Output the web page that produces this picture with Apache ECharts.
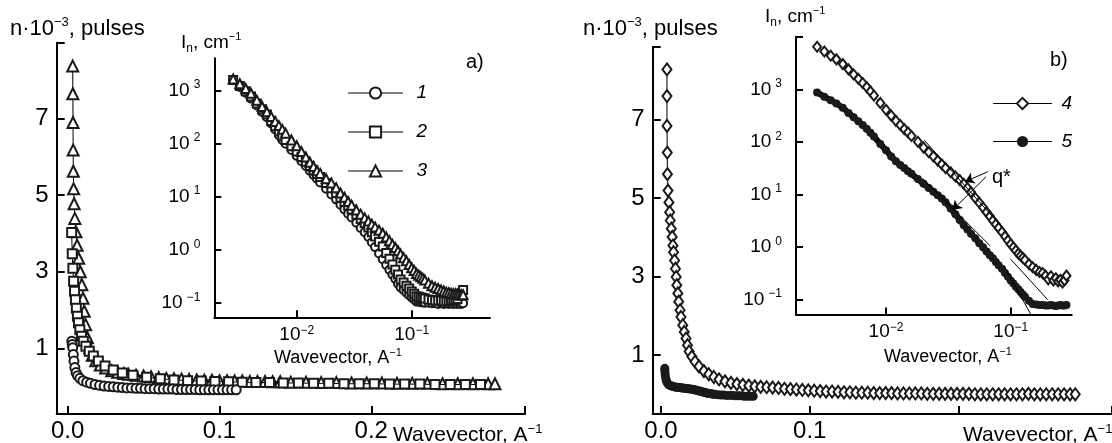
<!DOCTYPE html>
<html>
<head>
<meta charset="utf-8">
<script src="https://cdn.jsdelivr.net/npm/echarts@6.0.0/dist/echarts.min.js"></script>
<style>
  html, body { margin: 0; padding: 0; background: #fff; }
  #chart { width: 1112px; height: 443px; }
</style>
</head>
<body>
<div id="chart"></div>
<script>
const FONT = '"Liberation Sans", Arial, sans-serif';

// ---- main panels, n*10^-3 pulses vs wavevector ----
const mainXTicks = [0, 0.1, 0.2];
const mainXLabels = ['0.0', '0.1', '0.2'];
const mainYTicks = [1, 3, 5, 7];

// panel a), curve 3 (triangles)
const qTriMain = [0.0033, 0.0034, 0.0035, 0.0036, 0.0037, 0.0039, 0.0042, 0.0047, 0.0054, 0.0062,
  0.0072, 0.0083, 0.0093, 0.0101, 0.0109, 0.0118, 0.0130, 0.0145, 0.0162, 0.0185,
  0.0215, 0.025, 0.029, 0.033, 0.037, 0.040, 0.045, 0.050, 0.055, 0.060,
  0.065, 0.070, 0.075, 0.080, 0.085, 0.090, 0.095, 0.100, 0.105, 0.110,
  0.115, 0.120, 0.125, 0.130, 0.135, 0.140, 0.147, 0.157, 0.167, 0.177,
  0.187, 0.197, 0.207, 0.217, 0.227, 0.237, 0.247, 0.257, 0.267, 0.277, 0.2815];
const nTriMain = [8.36, 7.64, 6.89, 6.17, 5.62, 5.16, 4.77, 4.39, 4.04, 3.69,
  3.35, 3.00, 2.66, 2.31, 1.97, 1.62, 1.28, 1.02, 0.82, 0.68,
  0.57, 0.49, 0.42, 0.38, 0.35, 0.33, 0.30, 0.28, 0.26, 0.24,
  0.22, 0.21, 0.20, 0.19, 0.18, 0.17, 0.17, 0.16, 0.16, 0.15,
  0.15, 0.14, 0.14, 0.14, 0.13, 0.13, 0.12, 0.12, 0.11, 0.11,
  0.10, 0.10, 0.10, 0.09, 0.09, 0.09, 0.08, 0.08, 0.08, 0.08, 0.08];

// panel a), curve 2 (squares)
const qSqMain = [0.0026, 0.0030, 0.0034, 0.0039, 0.0045, 0.0051, 0.0057, 0.0064, 0.0071, 0.0080,
  0.0091, 0.0103, 0.0120, 0.0142, 0.0169, 0.0202, 0.0246, 0.030, 0.036, 0.043,
  0.052, 0.061, 0.070, 0.079, 0.088, 0.097, 0.106, 0.115, 0.124, 0.133,
  0.142, 0.152, 0.162, 0.172, 0.182, 0.192, 0.202, 0.212, 0.222, 0.232,
  0.242, 0.252, 0.262, 0.272];
const nSqMain = [4.02, 3.47, 3.09, 2.75, 2.49, 2.27, 2.05, 1.84, 1.67, 1.49,
  1.32, 1.19, 1.06, 0.93, 0.80, 0.67, 0.54, 0.44, 0.36, 0.30,
  0.25, 0.21, 0.18, 0.16, 0.15, 0.14, 0.13, 0.12, 0.11, 0.11,
  0.10, 0.10, 0.09, 0.09, 0.08, 0.08, 0.08, 0.07, 0.07, 0.07,
  0.06, 0.06, 0.06, 0.06];

// panel a), curve 1 (circles)
const qCirMain = [0.0027, 0.0030, 0.0033, 0.0037, 0.0041, 0.0047, 0.0055, 0.0065, 0.0080, 0.0100,
  0.0125, 0.015, 0.018, 0.021, 0.024, 0.027, 0.030, 0.033, 0.036, 0.039,
  0.042, 0.045, 0.048, 0.051, 0.054, 0.057, 0.060, 0.063, 0.066, 0.069,
  0.072, 0.075, 0.078, 0.081, 0.084, 0.087, 0.090, 0.093, 0.096, 0.099,
  0.102, 0.105, 0.108, 0.111];
const nCirMain = [1.19, 1.10, 1.02, 0.84, 0.67, 0.50, 0.37, 0.29, 0.22, 0.16,
  0.12, 0.09, 0.06, 0.04, 0.02, 0.01, 0.00, -0.01, -0.02, -0.03,
  -0.03, -0.04, -0.04, -0.05, -0.05, -0.05, -0.06, -0.06, -0.06, -0.06,
  -0.07, -0.07, -0.07, -0.07, -0.07, -0.08, -0.08, -0.08, -0.08, -0.08,
  -0.08, -0.08, -0.08, -0.08];

// panel b), curve 4 (diamonds)
const qDiaMain = [0.0040, 0.0040, 0.0040, 0.0042, 0.0043, 0.0047, 0.0053, 0.0058, 0.0062, 0.0069,
  0.0075, 0.0080, 0.0084, 0.0091, 0.0097, 0.0102, 0.0106, 0.0113, 0.0119, 0.0128,
  0.0134, 0.0146, 0.0156, 0.0168, 0.0178, 0.0189, 0.0207, 0.0229, 0.0255, 0.0288,
  0.0321, 0.0355, 0.039, 0.043, 0.047, 0.051, 0.055, 0.059, 0.063, 0.067,
  0.071, 0.075, 0.079, 0.083, 0.087, 0.091, 0.095, 0.099, 0.103, 0.107,
  0.111, 0.115, 0.119, 0.123, 0.127, 0.131, 0.135, 0.139, 0.143, 0.147,
  0.151, 0.155, 0.159, 0.163, 0.167, 0.171, 0.175, 0.179, 0.183, 0.187,
  0.191, 0.195, 0.199, 0.203, 0.207, 0.211, 0.215, 0.219, 0.223, 0.227,
  0.231, 0.235, 0.239, 0.243, 0.247, 0.251, 0.255, 0.259, 0.263, 0.267,
  0.271, 0.275, 0.2785];
const nDiaMain = [8.28, 7.60, 6.84, 6.16, 5.61, 5.19, 4.89, 4.64, 4.43, 4.22,
  4.01, 3.79, 3.62, 3.41, 3.20, 2.99, 2.78, 2.57, 2.36, 2.14,
  1.97, 1.76, 1.59, 1.42, 1.25, 1.09, 0.96, 0.83, 0.71, 0.59,
  0.51, 0.44, 0.38, 0.33, 0.29, 0.26, 0.24, 0.22, 0.20, 0.19,
  0.18, 0.17, 0.16, 0.14, 0.13, 0.12, 0.11, 0.10, 0.09, 0.08,
  0.07, 0.07, 0.06, 0.05, 0.05, 0.04, 0.04, 0.04, 0.03, 0.03,
  0.03, 0.03, 0.02, 0.02, 0.02, 0.02, 0.02, 0.01, 0.01, 0.01,
  0.01, 0.01, 0.01, 0.01, 0.01, 0.00, 0.00, 0.00, 0.00, 0.00,
  0.00, 0.00, 0.00, 0.00, 0.01, 0.00, 0.00, 0.00, 0.00, 0.00,
  0.00, 0.00, 0.00];

// panel b), curve 5 (filled circles)
const qFilMain = [0.0025, 0.0026, 0.0027, 0.0029, 0.0032, 0.0036, 0.0042, 0.005, 0.006, 0.007,
  0.008, 0.009, 0.010, 0.011, 0.012, 0.013, 0.014, 0.015, 0.016, 0.017,
  0.018, 0.019, 0.020, 0.021, 0.022, 0.023, 0.024, 0.025, 0.026, 0.027,
  0.028, 0.029, 0.030, 0.031, 0.032, 0.033, 0.034, 0.035, 0.036, 0.038,
  0.040, 0.042, 0.044, 0.046, 0.048, 0.050, 0.052, 0.054, 0.056, 0.058,
  0.060, 0.062];
const nFilMain = [0.66, 0.60, 0.54, 0.47, 0.40, 0.34, 0.29, 0.25, 0.23, 0.21,
  0.20, 0.19, 0.18, 0.18, 0.17, 0.17, 0.16, 0.16, 0.15, 0.15,
  0.14, 0.14, 0.13, 0.13, 0.12, 0.11, 0.10, 0.09, 0.08, 0.07,
  0.06, 0.05, 0.04, 0.03, 0.02, 0.02, 0.01, 0.00, 0.00, -0.01,
  -0.02, -0.02, -0.03, -0.03, -0.03, -0.04, -0.04, -0.04, -0.05, -0.05,
  -0.05, -0.05];

// ---- insets, I_n (cm^-1) vs wavevector, log-log ----
const insetXTicks = [0.01, 0.1];
const insetXExp = ['−2', '−1'];
const insetYTicks = [0.1, 1, 10, 100, 1000];
const insetYExp = ['−1', '0', '1', '2', '3'];

const qInset = [0.0028, 0.0032, 0.0036, 0.004, 0.0045, 0.005, 0.0055, 0.006, 0.0065, 0.007,
  0.0075, 0.008, 0.009, 0.010, 0.011, 0.012, 0.013, 0.014, 0.015, 0.016,
  0.018, 0.020, 0.022, 0.024, 0.026, 0.028, 0.030, 0.033, 0.036, 0.039,
  0.042, 0.045, 0.048, 0.052, 0.056, 0.060, 0.064, 0.068, 0.072, 0.076,
  0.080, 0.085, 0.090, 0.095, 0.100, 0.105, 0.110, 0.115, 0.120, 0.125,
  0.130, 0.140, 0.150, 0.160, 0.170, 0.180, 0.190, 0.200, 0.210, 0.220,
  0.230, 0.240, 0.250, 0.260, 0.270, 0.280];

const iCurve1 = [1580, 1170, 912, 708, 525, 398, 316, 240, 186, 145,
  117, 100, 75.9, 58.9, 46.8, 38.0, 30.9, 25.7, 21.9, 18.6,
  14.1, 11.0, 8.91, 7.08, 5.75, 4.79, 4.07, 3.24, 2.57, 2.14,
  1.74, 1.38, 1.12, 0.851, 0.661, 0.513, 0.417, 0.339, 0.282, 0.229,
  0.195, 0.174, 0.155, 0.138, 0.126, 0.115, 0.105, 0.104, 0.102, 0.101,
  0.100, 0.100, 0.098, 0.098, 0.095, 0.098, 0.095, 0.098, 0.095, 0.098,
  0.095, 0.098, 0.095, 0.098, 0.095, 0.098];
const iCurve2 = [1580, 1230, 977, 776, 575, 447, 355, 269, 214, 170,
  138, 117, 89.1, 70.8, 56.2, 45.7, 38.0, 31.6, 26.9, 23.4,
  18.2, 14.5, 11.7, 9.55, 7.94, 6.76, 5.75, 4.57, 3.80, 3.16,
  2.63, 2.14, 1.78, 1.41, 1.15, 0.871, 0.676, 0.525, 0.417, 0.339,
  0.275, 0.240, 0.209, 0.186, 0.162, 0.148, 0.132, 0.129, 0.126, 0.123,
  0.120, 0.115, 0.112, 0.110, 0.110, 0.110, 0.107, 0.107, 0.107, 0.110,
  0.112, 0.115, 0.117, 0.135, 0.151, 0.174];
const iCurve3 = [1660, 1350, 1100, 891, 661, 501, 398, 324, 263, 219,
  186, 158, 117, 91.2, 70.8, 56.2, 44.7, 37.2, 30.9, 27.5,
  21.9, 18.2, 14.8, 11.7, 9.77, 8.13, 6.92, 5.62, 4.68, 3.98,
  3.47, 3.02, 2.69, 2.34, 2.04, 1.74, 1.48, 1.26, 1.10, 0.955,
  0.832, 0.708, 0.617, 0.525, 0.457, 0.407, 0.355, 0.331, 0.309, 0.288,
  0.269, 0.234, 0.209, 0.195, 0.186, 0.174, 0.166, 0.158, 0.155, 0.151,
  0.148, 0.148, 0.145, 0.145, 0.141, 0.141];
const iCurve4 = [6460, 5250, 4370, 3720, 3020, 2400, 1910, 1580, 1320, 1100,
  912, 759, 550, 407, 316, 251, 209, 174, 151, 129,
  100, 77.6, 63.1, 52.5, 43.7, 37.2, 31.6, 26.3, 21.9, 18.6,
  15.8, 13.2, 11.0, 8.51, 6.92, 5.62, 4.57, 3.80, 3.16, 2.69,
  2.29, 1.91, 1.58, 1.32, 1.12, 0.977, 0.851, 0.741, 0.676, 0.617,
  0.562, 0.468, 0.407, 0.363, 0.331, 0.316, 0.282, 0.240, 0.275, 0.229,
  0.251, 0.219, 0.234, 0.209, 0.229, 0.282];
const iCurve5 = [871, 724, 617, 537, 447, 355, 295, 245, 209, 178,
  148, 126, 91.2, 69.2, 52.5, 42.7, 36.3, 31.6, 27.5, 24.5,
  19.5, 15.8, 13.2, 11.2, 9.55, 8.32, 7.08, 5.37, 4.17, 3.24,
  2.57, 2.14, 1.78, 1.45, 1.17, 0.977, 0.813, 0.692, 0.603, 0.513,
  0.447, 0.380, 0.316, 0.269, 0.229, 0.200, 0.174, 0.155, 0.138, 0.123,
  0.112, 0.0933, 0.0813, 0.0794, 0.0776, 0.0776, 0.0759, 0.0759, 0.0776, 0.0759,
  0.0741, 0.0759, 0.0776, 0.0759, 0.0759, 0.0776];

// straight power-law fits in inset b) and the q* arrows
const fit4Low = [[0.0203, 107], [0.0938, 1.82]];
const fit4High = [[0.100, 0.58], [0.198, 0.098]];
const fit5Low = [[0.0197, 20.0], [0.0685, 1.04]];
const fit5High = [[0.0891, 0.417], [0.146, 0.050]];
const qStarArrow4 = [[0.0655, 26.9], [0.0431, 17.4]];
const qStarArrow5 = [[0.0634, 21.6], [0.0342, 5.0]];

const pairs = (xs, ys) => xs.map((x, i) => [x, ys[i]]);

const axisLineStyle = { color: '#000', width: 2 };
const tickStyle = { color: '#000', width: 2 };
const supRich = {
  s: { fontSize: 12, fontFamily: FONT, color: '#000', verticalAlign: 'top', lineHeight: 12 },
  sp: { fontSize: 12, fontFamily: FONT, color: '#000', verticalAlign: 'top', lineHeight: 12, padding: [0, 0, 0, 4] }
};

function mainXAxis(gridIndex, min, max, labels) {
  return {
    type: 'value', gridIndex, min, max,
    axisLine: { onZero: false, lineStyle: axisLineStyle },
    axisTick: { inside: true, length: 8, lineStyle: tickStyle, customValues: mainXTicks.concat([max]) },
    axisLabel: {
      customValues: mainXTicks.slice(0, labels),
      formatter: v => mainXLabels[mainXTicks.indexOf(v)],
      fontSize: 24, fontFamily: FONT, color: '#000', margin: 5
    },
    splitLine: { show: false }
  };
}
function mainYAxis(gridIndex, min, max) {
  return {
    type: 'value', gridIndex, min, max,
    axisLine: { onZero: false, lineStyle: axisLineStyle },
    axisTick: { inside: true, length: 8, lineStyle: tickStyle, customValues: mainYTicks.concat([max]) },
    axisLabel: { customValues: mainYTicks, fontSize: 24, fontFamily: FONT, color: '#000', margin: 8 },
    splitLine: { show: false }
  };
}
function insetXAxis(gridIndex, min, max) {
  return {
    type: 'log', gridIndex, min, max,
    axisLine: { onZero: false, lineStyle: axisLineStyle },
    axisTick: { inside: true, length: 7, lineStyle: tickStyle, customValues: insetXTicks },
    axisLabel: {
      customValues: insetXTicks,
      formatter: v => '10{s|' + insetXExp[insetXTicks.indexOf(v)] + '}',
      fontSize: 19, fontFamily: FONT, color: '#000', margin: 7, lineHeight: 21, rich: supRich
    },
    splitLine: { show: false }, minorTick: { show: false }
  };
}
function insetYAxis(gridIndex, min, max, extraTicks) {
  return {
    type: 'log', gridIndex, min, max,
    axisLine: { onZero: false, lineStyle: axisLineStyle },
    axisTick: { inside: true, length: 7, lineStyle: tickStyle, customValues: insetYTicks.concat(extraTicks) },
    axisLabel: {
      customValues: insetYTicks,
      formatter: v => '10{sp|' + insetYExp[insetYTicks.indexOf(v)] + '}',
      fontSize: 19, fontFamily: FONT, color: '#000', margin: 14, lineHeight: 23, rich: supRich
    },
    splitLine: { show: false }, minorTick: { show: false }
  };
}

function curve(name, xi, data, symbol, size, z, lineWidth) {
  return {
    name, type: 'line', xAxisIndex: xi, yAxisIndex: xi, data,
    symbol, symbolSize: size, showSymbol: true, showAllSymbol: true,
    lineStyle: { color: '#000', width: lineWidth || 1, cap: 'round', join: 'round' },
    itemStyle: { color: '#1a1a1a', borderWidth: 1 },
    emphasis: { disabled: true }, z, animation: false
  };
}
function fitLine(xi, data) {
  return {
    type: 'line', xAxisIndex: xi, yAxisIndex: xi, data, symbol: 'none',
    lineStyle: { color: '#000', width: 1 }, emphasis: { disabled: true }, z: 5, animation: false
  };
}

function text(x, y, str, size, extra) {
  return Object.assign({
    type: 'text', x, y,
    style: {
      text: str, fontSize: size, fontFamily: FONT, fill: '#000', verticalAlign: 'middle',
      rich: {
        s: { fontSize: Math.round(size * 0.6), fontFamily: FONT, fill: '#000', verticalAlign: 'top', lineHeight: Math.round(size * 0.6) },
        n: { fontSize: Math.round(size * 0.62), fontFamily: FONT, fill: '#000', verticalAlign: 'bottom', lineHeight: Math.round(size * 0.62) }
      },
      lineHeight: size + 4
    }
  }, extra || {});
}

const chart = echarts.init(document.getElementById('chart'), null, { renderer: 'canvas' });

const legendText = { fontSize: 19, fontStyle: 'italic', fontFamily: FONT, color: '#000' };

chart.setOption({
  animation: false,
  backgroundColor: '#fff',
  grid: [
    { left: 56.7, top: 42.7, width: 468.3, height: 374 },
    { left: 652.7, top: 46.7, width: 470, height: 369.3 },
    { left: 214.3, top: 58.3, width: 275.7, height: 259 },
    { left: 796, top: 36.8, width: 275.7, height: 277.7 }
  ],
  xAxis: [
    mainXAxis(0, -0.00725, 0.3013, 3),
    mainXAxis(1, -0.0056, 0.3032, 2),
    insetXAxis(2, 0.001919, 0.4797),
    insetXAxis(3, 0.001897, 0.3083)
  ],
  yAxis: [
    mainYAxis(0, -0.709, 8.97),
    mainYAxis(1, -0.503, 8.858),
    insetYAxis(2, 0.0531, 4074, []),
    insetYAxis(3, 0.0513, 10000, [10000])
  ],
  legend: [
    {
      data: ['1', '2', '3'], orient: 'vertical', left: 348, top: 83.5, padding: 0,
      itemWidth: 54, itemHeight: 14, itemGap: 20, selectedMode: false,
      lineStyle: { width: 1 },
      textStyle: Object.assign({ padding: [0, 0, 0, 9] }, legendText)
    },
    {
      data: ['4', '5'], orient: 'vertical', left: 993, top: 94, padding: 0,
      itemWidth: 58, itemHeight: 14, itemGap: 19, selectedMode: false,
      lineStyle: { width: 1 },
      textStyle: Object.assign({ padding: [0, 0, 0, 5] }, legendText)
    }
  ],
  series: [
    // inset a)
    curve('1', 2, pairs(qInset, iCurve1), 'emptyCircle', 8, 3),
    curve('2', 2, pairs(qInset, iCurve2), 'emptyRect', 8, 3),
    curve('3', 2, pairs(qInset, iCurve3), 'emptyTriangle', 9, 4),
    // main a)
    curve('3', 0, pairs(qTriMain, nTriMain), 'emptyTriangle', 11, 2),
    curve('2', 0, pairs(qSqMain, nSqMain), 'emptyRect', 9, 3),
    curve('1', 0, pairs(qCirMain, nCirMain), 'emptyCircle', 9, 4),
    // inset b)
    curve('4', 3, pairs(qInset, iCurve4), 'emptyDiamond', [8, 10], 4),
    curve('5', 3, pairs(qInset, iCurve5), 'circle', 8, 3, 6),
    // main b)
    curve('5', 1, pairs(qFilMain, nFilMain), 'circle', 9, 2, 7),
    curve('4', 1, pairs(qDiaMain, nDiaMain), 'emptyDiamond', [9, 12], 3),
    // fits and q* arrows
    Object.assign(fitLine(3, fit4Low), {
      markLine: {
        silent: true, symbol: ['none', 'arrow'], symbolSize: 9, animation: false,
        lineStyle: { color: '#000', width: 1, type: 'solid' }, label: { show: false },
        data: [
          [{ coord: qStarArrow4[0] }, { coord: qStarArrow4[1] }],
          [{ coord: qStarArrow5[0] }, { coord: qStarArrow5[1] }]
        ]
      }
    }),
    fitLine(3, fit4High),
    fitLine(3, fit5Low),
    fitLine(3, fit5High)
  ],
  graphic: [
    text(10, 29, 'n·10{s|−3}, pulses', 22),
    text(583, 29, 'n·10{s|−3}, pulses', 22),
    text(181, 43, 'I{n|n}, cm{s|−1}', 19),
    text(765, 17, 'I{n|n}, cm{s|−1}', 19),
    text(393, 435, 'Wavevector, A{s|−1}', 21),
    text(963, 435, 'Wavevector, A{s|−1}', 21),
    text(274, 358, 'Wavevector, A{s|−1}', 18),
    text(884, 357, 'Wavevector, A{s|−1}', 18),
    text(466, 62, 'a)', 20),
    text(1050, 60, 'b)', 20),
    text(992, 177, 'q*', 20)
  ]
});
</script>
</body>
</html>
